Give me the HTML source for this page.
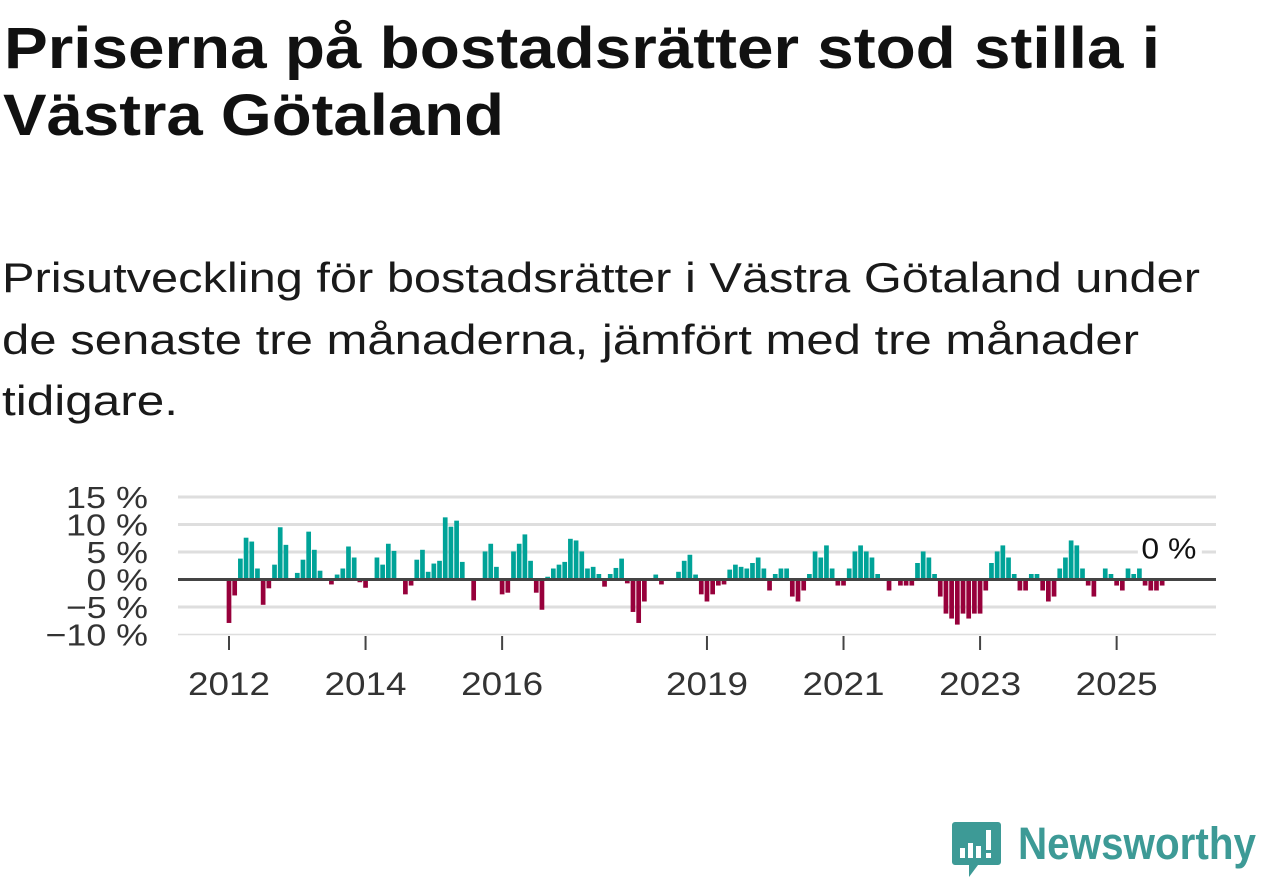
<!DOCTYPE html>
<html><head><meta charset="utf-8"><style>
html,body{margin:0;padding:0;background:#fff;width:1262px;height:879px;overflow:hidden}
svg{position:absolute;left:0;top:0}
</style></head><body>
<svg width="1262" height="879" font-family="Liberation Sans, DejaVu Sans, sans-serif">
  <text x="4" y="68" font-size="58" font-weight="bold" fill="#111" textLength="1156" lengthAdjust="spacingAndGlyphs">Priserna på bostadsrätter stod stilla i</text>
  <text x="3" y="135" font-size="58" font-weight="bold" fill="#111" textLength="501" lengthAdjust="spacingAndGlyphs">Västra Götaland</text>
  <text x="2" y="292" font-size="42" fill="#1a1a1a" textLength="1198" lengthAdjust="spacingAndGlyphs">Prisutveckling för bostadsrätter i Västra Götaland under</text>
  <text x="2" y="354" font-size="42" fill="#1a1a1a" textLength="1137" lengthAdjust="spacingAndGlyphs">de senaste tre månaderna, jämfört med tre månader</text>
  <text x="2" y="415" font-size="42" fill="#1a1a1a" textLength="176" lengthAdjust="spacingAndGlyphs">tidigare.</text>
</svg>
<svg id="chart" width="1262" height="879"></svg>
<script>
const values = [-7.9,-2.9,3.8,7.6,6.9,2.0,-4.6,-1.6,2.7,9.5,6.3,0,1.2,3.6,8.7,5.4,1.6,0,-0.9,0.9,2.0,6.0,4.0,-0.5,
-1.5,0,4.0,2.7,6.5,5.2,0,-2.7,-1.1,3.6,5.4,1.4,2.9,3.4,11.3,9.6,10.7,3.2,0,-3.8,0,5.1,6.5,2.3,
-2.7,-2.4,5.1,6.5,8.2,3.4,-2.4,-5.5,0.5,2.0,2.7,3.2,7.4,7.1,5.1,2.0,2.3,1.0,-1.3,1.0,2.1,3.8,-0.7,-5.9,
-7.9,-4.0,0,0.9,-0.9,0,0,1.4,3.4,4.5,0.9,-2.7,-4.0,-2.7,-1.1,-0.9,1.8,2.7,2.3,2.0,3.0,4.0,2.0,-2.0,
1.0,2.0,2.0,-3.1,-4.0,-2.0,1.0,5.1,4.0,6.2,2.0,-1.1,-1.1,2.0,5.1,6.2,5.1,4.0,1.0,0,-2.0,0,-1.1,-1.1,
-1.1,3.0,5.1,4.0,1.0,-3.1,-6.2,-7.1,-8.2,-6.2,-7.1,-6.2,-6.2,-2.0,3.0,5.1,6.2,4.0,1.0,-2.0,-2.0,1.0,1.0,-2.0,
-4.0,-3.1,2.0,4.0,7.1,6.2,2.0,-1.1,-3.1,0,2.0,1.0,-1.1,-2.0,2.0,1.0,2.0,-1.1,-2.0,-2.0,-1.1,0];
const startYear = 2012;
const yTicks = [15,10,5,0,-5,-10];
const yTickLabels = ["15 %","10 %","5 %","0 %","\u22125 %","\u221210 %"];
const xTickYears = [2012,2014,2016,2019,2021,2023,2025];
const lastLabel = "0 %";

const svg=document.getElementById('chart');
const NS='http://www.w3.org/2000/svg';
const x0=229, mw=5.69, y0=579.5, py=5.5;
const xs=i=>x0+i*mw;
const ys=v=>y0-v*py;
function mk(t,a){const e=document.createElementNS(NS,t);for(const k in a)e.setAttribute(k,a[k]);svg.appendChild(e);return e;}
yTicks.forEach((t,k)=>{
  if(t!==0){const g=mk('line',{x1:178,x2:1216,y1:ys(t),y2:ys(t),stroke:'#dedede','stroke-width':t===-10?1.5:3});
  
  }
  const lab=yTickLabels[k];
  const l=mk('text',{x:148,y:ys(t)+11,'text-anchor':'end','font-size':31,fill:'#333','font-family':'Liberation Sans, sans-serif',textLength:lab.length*20.5,lengthAdjust:'spacingAndGlyphs'});
  l.textContent=lab;
  
  
});
values.forEach((v,i)=>{
  if(v===0)return;
  const b=mk('rect',{x:xs(i)-2.35,width:4.7,y:v>0?ys(v):y0,height:Math.abs(v)*py,fill:v>0?'#00a398':'#97003b'});
  
  
});
const z=mk('line',{x1:178,x2:1216,y1:y0,y2:y0,stroke:'#444','stroke-width':3});


xTickYears.forEach(yr=>{
  const x=xs((yr-startYear)*12);
  const t=mk('line',{x1:x,x2:x,y1:636,y2:650,stroke:'#444','stroke-width':2});
  
  
  const l=mk('text',{x:x,y:695,'text-anchor':'middle','font-size':32,fill:'#333','font-family':'Liberation Sans, sans-serif',textLength:82,lengthAdjust:'spacingAndGlyphs'});
  l.textContent=yr;
  
  
});
const lx=xs(values.length-1);
const bg=mk('rect',{x:lx-30,y:ys(values[values.length-1])-50,width:64,height:34,fill:'#fff'});


const ll=mk('text',{x:lx+1,y:ys(values[values.length-1])-21,'text-anchor':'middle','font-size':29,fill:'#111','font-family':'Liberation Sans, sans-serif',textLength:55,lengthAdjust:'spacingAndGlyphs'});
ll.textContent=lastLabel;


</script>
<svg width="1262" height="879" style="pointer-events:none">
  <path d="M955 822 h43 a3 3 0 0 1 3 3 v37 a3 3 0 0 1 -3 3 h-20 l-9 12 v-12 h-14 a3 3 0 0 1 -3 -3 v-37 a3 3 0 0 1 3 -3z" fill="#3d9a96"/>
  <rect x="960" y="848" width="5" height="10" fill="#fff"/>
  <rect x="968" y="843" width="5" height="15" fill="#fff"/>
  <rect x="976" y="846" width="5" height="12" fill="#fff"/>
  <rect x="986" y="830" width="5" height="20" fill="#fff"/>
  <rect x="986" y="853" width="5" height="5" fill="#fff"/>
  <text x="1018" y="859" font-size="45" font-weight="bold" fill="#3d9a96" font-family="Liberation Sans, sans-serif" textLength="238" lengthAdjust="spacingAndGlyphs">Newsworthy</text>
</svg>
</body></html>
